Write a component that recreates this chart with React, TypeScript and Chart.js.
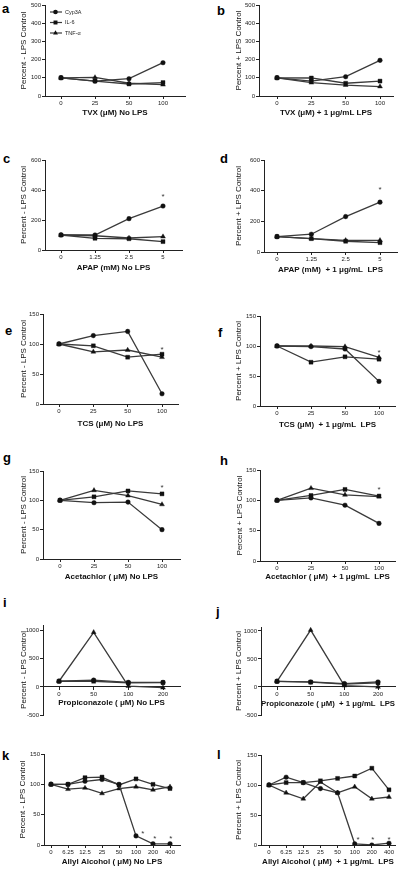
import React, { useEffect, useRef } from 'react';
import { Chart, registerables } from 'chart.js';
Chart.register(...registerables);

const FONT = "'Liberation Sans', Arial, Helvetica, sans-serif";
const LINE = '#3a3a3a';
const MARK = '#111111';
const TEXT = '#222222';

const seriesNames = ['Cyp3A', 'IL-6', 'TNF-α'];

// x categories
const tvxDoses = ['0', '25', '50', '100'];
const apapDoses = ['0', '1.25', '2.5', '5'];
const tcsDoses = ['0', '25', '50', '100'];
const acetDoses = ['0', '25', '50', '100'];
const propDoses = ['0', '50', '100', '200'];
const allylDoses = ['0', '6.25', '12.5', '25', '50', '100', '200', '400'];

// y ticks
const yTicksTVX = [0, 100, 200, 300, 400, 500];
const yTicksAPAP = [0, 200, 400, 600];
const yTicks150 = [0, 50, 100, 150];
const yTicksProp = [-500, 0, 500, 1000];

// series values (percent of control)
const cypA = [100, 82, 95, 183];
const il6A = [100, 82, 66, 74];
const tnfA = [100, 102, 70, 62];

const cypB = [100, 82, 106, 196];
const il6B = [100, 99, 70, 82];
const tnfB = [100, 73, 60, 52];

const cypC = [100, 100, 209, 293];
const il6C = [100, 78, 75, 56];
const tnfC = [100, 95, 80, 89];

const cypD = [100, 116, 231, 325];
const il6D = [100, 87, 70, 61];
const tnfD = [100, 87, 76, 76];

const cypE = [100, 114, 121, 17];
const il6E = [100, 97, 78, 83];
const tnfE = [100, 87, 90, 78];

const cypF = [100, 99, 95, 41];
const il6F = [100, 73, 82, 78];
const tnfF = [100, 100, 99, 81];

const cypG = [100, 96, 97, 50];
const il6G = [100, 106, 116, 111];
const tnfG = [100, 117, 108, 93];

const cypH = [100, 104, 92, 62];
const il6H = [100, 108, 118, 107];
const tnfH = [100, 120, 109, 106];

const cypI = [100, 120, 80, 80];
const il6I = [100, 100, 70, 75];
const tnfI = [100, 970, 15, -15];

const cypJ = [100, 90, 60, 90];
const il6J = [100, 85, 50, 72];
const tnfJ = [100, 1015, 24, 0];

const cypK = [100, 100, 105, 108, 100, 15, 2, 2];
const il6K = [100, 100, 111, 112, 99, 109, 100, 93];
const tnfK = [100, 92, 94, 85, 93, 96, 91, 96];

const cypL = [100, 113, 104, 94, 87, 2, 0, 3];
const il6L = [100, 104, 104, 107, 111, 115, 128, 92];
const tnfL = [100, 87, 77, 105, 87, 97, 77, 80];

// significance marks (data space)
const starsC = [{ x: 3, y: 373 }];
const starsD = [{ x: 3, y: 424 }];
const starsE = [{ x: 3, y: 95 }];
const starsF = [{ x: 3, y: 93 }];
const starsG = [{ x: 3, y: 125 }];
const starsH = [{ x: 3, y: 122 }];
const starsK = [{ x: 5.4, y: 23 }, { x: 6.1, y: 15 }, { x: 7.05, y: 15 }];
const starsL = [{ x: 5.2, y: 12 }, { x: 6.05, y: 12 }, { x: 7.0, y: 12 }];

const seriesStyles = [
  { style: 'circle', r: 2.3 },
  { style: 'rect', r: 2.8 },
  { style: 'triangle', r: 2.8 },
];

type Geo = { L: number; T: number; R: number; B: number; yt: number; xt: number; x0: number; xN: number };
type PanelCfg = {
  key: string; tagX: number; tagBase: number;
  doses: string[]; cyp: number[]; il6: number[]; tnf: number[];
  yTicks: number[]; yMin: number; yMax: number;
  stars: { x: number; y: number }[];
  xTitle: string; yTitle: string; g: Geo; dyn?: boolean; legend?: boolean;
};

const minusT = 'Percent - LPS Control';
const plusT = 'Percent + LPS Control';

const panels: PanelCfg[] = [
  { key: 'a', tagX: 2, tagBase: 13, doses: tvxDoses, cyp: cypA, il6: il6A, tnf: tnfA, yTicks: yTicksTVX, yMin: 0, yMax: 500, stars: [], xTitle: 'TVX (μM) No LPS', yTitle: minusT, legend: true,
    g: { L: 45, T: 5, R: 185, B: 96, yt: 24, xt: 113, x0: 61, xN: 163 } },
  { key: 'b', tagX: 217, tagBase: 15, doses: tvxDoses, cyp: cypB, il6: il6B, tnf: tnfB, yTicks: yTicksTVX, yMin: 0, yMax: 500, stars: [], xTitle: 'TVX (μM) + 1 μg/mL LPS', yTitle: plusT,
    g: { L: 259, T: 5, R: 393, B: 96, yt: 239, xt: 113, x0: 277, xN: 380 } },
  { key: 'c', tagX: 3, tagBase: 163, doses: apapDoses, cyp: cypC, il6: il6C, tnf: tnfC, yTicks: yTicksAPAP, yMin: 0, yMax: 600, stars: starsC, xTitle: 'APAP (mM) No LPS', yTitle: minusT,
    g: { L: 45, T: 160, R: 182, B: 250, yt: 24, xt: 268, x0: 61, xN: 163 } },
  { key: 'd', tagX: 220, tagBase: 163, doses: apapDoses, cyp: cypD, il6: il6D, tnf: tnfD, yTicks: yTicksAPAP, yMin: 0, yMax: 600, stars: starsD, xTitle: 'APAP (mM)  + 1 μg/mL  LPS', yTitle: plusT,
    g: { L: 264, T: 160, R: 397, B: 252, yt: 239, xt: 270, x0: 277, xN: 380 } },
  { key: 'e', tagX: 5, tagBase: 335, doses: tcsDoses, cyp: cypE, il6: il6E, tnf: tnfE, yTicks: yTicks150, yMin: 0, yMax: 150, stars: starsE, xTitle: 'TCS (μM) No LPS', yTitle: minusT,
    g: { L: 43, T: 314, R: 178, B: 404, yt: 24, xt: 424, x0: 59, xN: 162 } },
  { key: 'f', tagX: 218, tagBase: 337, doses: tcsDoses, cyp: cypF, il6: il6F, tnf: tnfF, yTicks: yTicks150, yMin: 0, yMax: 150, stars: starsF, xTitle: 'TCS (μM)  + 1 μg/mL  LPS', yTitle: plusT,
    g: { L: 260, T: 316, R: 395, B: 406, yt: 239, xt: 425, x0: 277, xN: 379 } },
  { key: 'g', tagX: 3, tagBase: 462, doses: acetDoses, cyp: cypG, il6: il6G, tnf: tnfG, yTicks: yTicks150, yMin: 0, yMax: 150, stars: starsG, xTitle: 'Acetachlor ( μM) No LPS', yTitle: minusT,
    g: { L: 43, T: 471, R: 180, B: 559, yt: 24, xt: 577, x0: 60, xN: 162 } },
  { key: 'h', tagX: 220, tagBase: 465, doses: acetDoses, cyp: cypH, il6: il6H, tnf: tnfH, yTicks: yTicks150, yMin: 0, yMax: 150, stars: starsH, xTitle: 'Acetachlor ( μM)  + 1 μg/mL  LPS', yTitle: plusT,
    g: { L: 260, T: 470, R: 395, B: 561, yt: 240, xt: 577, x0: 277, xN: 379 } },
  { key: 'i', tagX: 3, tagBase: 607, doses: propDoses, cyp: cypI, il6: il6I, tnf: tnfI, yTicks: yTicksProp, yMin: -500, yMax: 1100, stars: [], xTitle: 'Propiconazole ( μM) No LPS', yTitle: minusT, dyn: true,
    g: { L: 43, T: 625, R: 180, B: 715, yt: 24, xt: 703, x0: 59, xN: 163 } },
  { key: 'j', tagX: 216, tagBase: 616, doses: propDoses, cyp: cypJ, il6: il6J, tnf: tnfJ, yTicks: yTicksProp, yMin: -500, yMax: 1070, stars: [], xTitle: 'Propiconazole ( μM)  + 1 μg/mL  LPS', yTitle: plusT, dyn: true,
    g: { L: 261, T: 627, R: 395, B: 715, yt: 239, xt: 704, x0: 277, xN: 378 } },
  { key: 'k', tagX: 2, tagBase: 760, doses: allylDoses, cyp: cypK, il6: il6K, tnf: tnfK, yTicks: yTicks150, yMin: 0, yMax: 150, stars: starsK, xTitle: 'Allyl Alcohol ( μM) No LPS', yTitle: minusT,
    g: { L: 44, T: 754, R: 180, B: 845, yt: 23, xt: 862, x0: 51, xN: 170 } },
  { key: 'l', tagX: 217, tagBase: 759, doses: allylDoses, cyp: cypL, il6: il6L, tnf: tnfL, yTicks: yTicks150, yMin: 0, yMax: 150, stars: starsL, xTitle: 'Allyl Alcohol ( μM)  + 1 μg/mL  LPS', yTitle: plusT,
    g: { L: 261, T: 755, R: 395, B: 845, yt: 239, xt: 862, x0: 269, xN: 389 } },
];

function drawMarker(ctx: CanvasRenderingContext2D, style: string, r: number, x: number, y: number) {
  ctx.beginPath();
  if (style === 'circle') {
    ctx.arc(x, y, r, 0, Math.PI * 2);
  } else if (style === 'rect') {
    const h = r * Math.SQRT1_2;
    ctx.rect(x - h, y - h, 2 * h, 2 * h);
  } else {
    let rad = 0;
    ctx.moveTo(x + Math.sin(rad) * r, y - Math.cos(rad) * r);
    rad += (2 * Math.PI) / 3;
    ctx.lineTo(x + Math.sin(rad) * r, y - Math.cos(rad) * r);
    rad += (2 * Math.PI) / 3;
    ctx.lineTo(x + Math.sin(rad) * r, y - Math.cos(rad) * r);
    ctx.closePath();
  }
  ctx.fill();
}

function Panel({ p }: { p: PanelCfg }) {
  const ref = useRef<HTMLCanvasElement>(null);
  const g = p.g;
  const cl = Math.round(g.yt - 4.8);
  const ct = Math.max(0, Math.round(g.T - 6));
  const cr = Math.round(g.R + 8);
  const cb = p.dyn ? Math.round(g.B + 8) : Math.round(g.xt + 4.8);
  const cw = cr - cl;
  const ch = cb - ct;

  useEffect(() => {
    if (!ref.current) return;
    const n = p.doses.length;
    const ppi = (g.xN - g.x0) / (n - 1);
    const xMin = -(g.x0 - g.L) / ppi;
    const xMax = n - 1 + (g.R - g.xN) / ppi;
    const padTop = g.T - ct;
    const padRight = cr - g.R;
    const padBottom = p.dyn ? cb - g.B : 0;
    const yWidth = g.L - cl;
    let xHeight: number;
    if (p.dyn) {
      const y0 = g.T + (p.yMax / (p.yMax - p.yMin)) * (g.B - g.T);
      xHeight = g.xt + 4.8 - y0;
    } else {
      xHeight = cb - g.B;
    }
    const all = [p.cyp, p.il6, p.tnf];
    const datasets = all.map((vals, si) => ({
      label: seriesNames[si],
      data: vals.map((v, i) => ({ x: i, y: v })),
      borderColor: LINE,
      borderWidth: 1.3,
      backgroundColor: MARK,
      pointBackgroundColor: MARK,
      pointBorderColor: MARK,
      pointBorderWidth: 0.4,
      pointStyle: seriesStyles[si].style as any,
      pointRadius: seriesStyles[si].r,
      tension: 0,
      fill: false,
    }));

    const starsPlugin = {
      id: 'stars' + p.key,
      afterDatasetsDraw(chart: any) {
        const ctx = chart.ctx as CanvasRenderingContext2D;
        const xs = chart.scales.x, ys = chart.scales.y;
        ctx.save();
        ctx.fillStyle = '#333';
        ctx.font = `8px ${FONT}`;
        ctx.textAlign = 'center';
        ctx.textBaseline = 'alphabetic';
        p.stars.forEach((s) => {
          ctx.fillText('*', xs.getPixelForValue(s.x), ys.getPixelForValue(s.y) + 4.6);
        });
        ctx.restore();
      },
    };
    const legendPlugin = {
      id: 'prismLegend' + p.key,
      afterDatasetsDraw(chart: any) {
        if (!p.legend) return;
        const ctx = chart.ctx as CanvasRenderingContext2D;
        const { left, top } = chart.chartArea;
        ctx.save();
        seriesNames.forEach((name, i) => {
          const y = top + 7 + i * 10.5;
          ctx.strokeStyle = LINE;
          ctx.lineWidth = 1.2;
          ctx.beginPath();
          ctx.moveTo(left + 5, y);
          ctx.lineTo(left + 17, y);
          ctx.stroke();
          ctx.fillStyle = MARK;
          drawMarker(ctx, seriesStyles[i].style, seriesStyles[i].r, left + 10.5, y);
          ctx.fillStyle = TEXT;
          ctx.font = `5.5px ${FONT}`;
          ctx.textBaseline = 'middle';
          ctx.textAlign = 'left';
          ctx.fillText(name, left + 20, y);
        });
        ctx.restore();
      },
    };

    const gridOpts = { display: true, drawOnChartArea: false, drawTicks: true, tickLength: 3, color: '#222', lineWidth: 1 };
    const borderOpts = { display: true, color: '#222', width: 1 };

    const chart = new Chart(ref.current, {
      type: 'line',
      data: { datasets: datasets as any },
      options: {
        responsive: false,
        animation: false,
        devicePixelRatio: 1,
        layout: { padding: { top: padTop, right: padRight, bottom: padBottom, left: 0 } },
        plugins: { legend: { display: false }, tooltip: { enabled: false } },
        scales: {
          x: {
            type: 'linear',
            position: p.dyn ? ({ y: 0 } as any) : 'bottom',
            min: xMin,
            max: xMax,
            afterBuildTicks: (s: any) => { s.ticks = p.doses.map((_, i) => ({ value: i })); },
            afterFit: (s: any) => { s.height = xHeight; },
            grid: gridOpts as any,
            border: borderOpts as any,
            ticks: {
              font: { size: 6, family: FONT },
              color: TEXT,
              padding: 1,
              maxRotation: 0,
              autoSkip: false,
              callback: (v: any) => p.doses[Math.round(Number(v))] ?? '',
            },
            title: { display: true, text: p.xTitle, color: '#111', padding: 0, font: { size: 8, weight: 'bold', family: FONT, lineHeight: 1.2 } },
          },
          y: {
            type: 'linear',
            min: p.yMin,
            max: p.yMax,
            afterBuildTicks: (s: any) => { s.ticks = p.yTicks.map((v) => ({ value: v })); },
            afterFit: (s: any) => { s.width = yWidth; },
            grid: gridOpts as any,
            border: borderOpts as any,
            ticks: {
              font: { size: 6, family: FONT },
              color: TEXT,
              padding: 1,
              autoSkip: false,
              callback: (v: any) => String(v),
            },
            title: { display: true, text: p.yTitle, color: '#111', padding: 0, font: { size: 8, family: FONT, lineHeight: 1.2 } },
          },
        },
      },
      plugins: [starsPlugin, legendPlugin],
    });
    return () => chart.destroy();
  }, []);

  return (
    <canvas
      ref={ref}
      width={cw}
      height={ch}
      style={{ position: 'absolute', left: cl, top: ct, width: cw, height: ch }}
    />
  );
}

export default function App() {
  return (
    <div style={{ position: 'absolute', left: 0, top: 0, width: 400, height: 870, background: '#fff', overflow: 'hidden' }}>
      {panels.map((p) => (
        <Panel key={p.key} p={p} />
      ))}
      {panels.map((p) => (
        <div
          key={'tag' + p.key}
          style={{ position: 'absolute', left: p.tagX, top: p.tagBase - 11, font: `bold 13px ${FONT}`, lineHeight: '13px', color: '#000' }}
        >
          {p.key}
        </div>
      ))}
    </div>
  );
}
